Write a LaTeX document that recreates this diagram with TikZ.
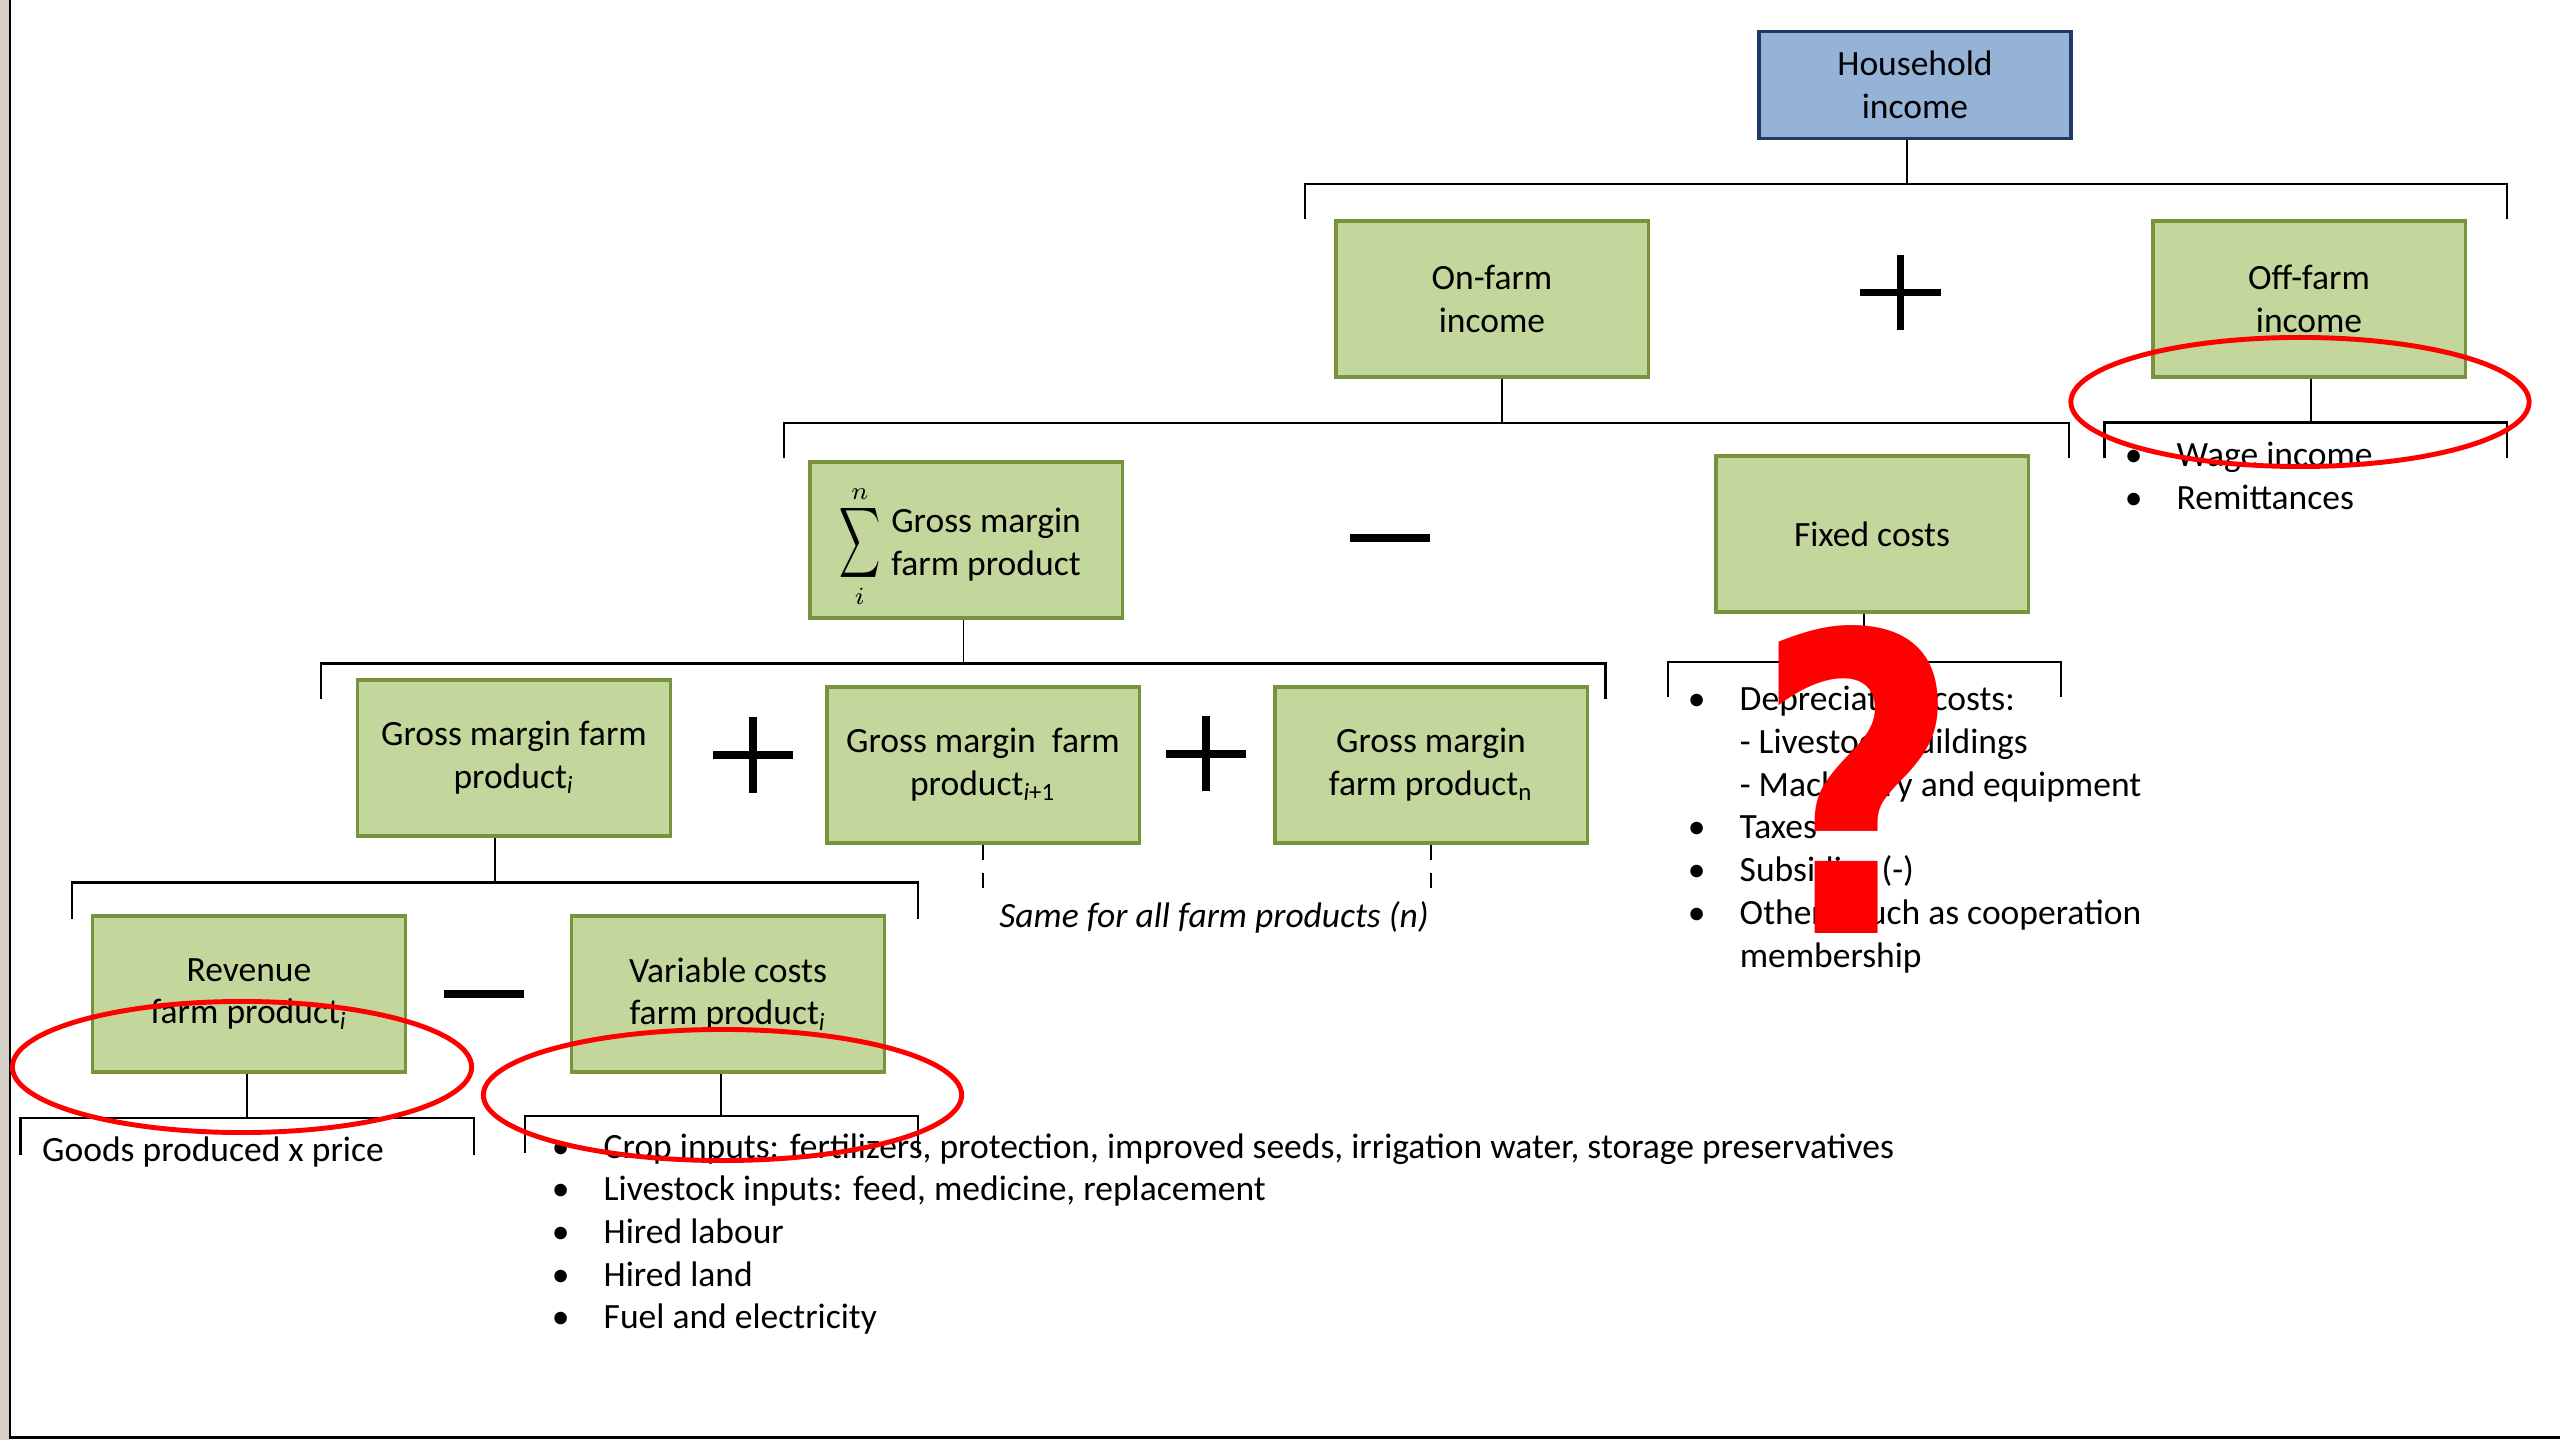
\documentclass[tikz,border=0pt]{standalone}
\usepackage{fontspec}
\setmainfont{Carlito}
\newfontfamily\qmfont{DejaVu Sans}
\usepackage{graphicx}

\definecolor{boxgreen}{HTML}{C3D69B}
\definecolor{boxline}{HTML}{77933C}
\definecolor{hhblue}{HTML}{95B3D7}
\definecolor{hhline}{HTML}{1F3A66}
\definecolor{framegray}{HTML}{D4D0C8}

\newcommand{\dgmfont}{\fontsize{10.1}{12.15}\selectfont}
\newcommand{\lbul}{\makebox[0.2cm]{\textbullet}}

\begin{document}
\begin{tikzpicture}[x=0.01cm, y=-0.01cm,
    box/.style={draw=boxline, fill=boxgreen, line width=0.9pt, minimum width=3.12cm, minimum height=1.56cm, inner sep=0pt, align=center, font=\dgmfont},
    hhbox/.style={box, draw=hhline, fill=hhblue, line width=1pt, minimum height=1.07cm},
    stem/.style={line width=0.55pt},
    bar/.style={line width=0.7pt},
    dashstem/.style={line width=0.55pt, dash pattern=on 4.3pt off 3.7pt},
    op/.style={line width=2.1pt},
    ring/.style={red, line width=1.4pt},
    list/.style={inner sep=0pt, anchor=base west, font=\dgmfont},
  ]
  \useasboundingbox (0,0) rectangle (2560,1440);
  % page edge
  \fill[framegray] (0,0) rectangle (8.7,1440);
  \draw[line width=0.75pt] (10,0) -- (10,1437.7) -- (2560,1437.7);

  % boxes
  \node[hhbox] (hh) at (1915,85) {Household\\income};
  \node[box] (on) at (1492,299) {On-farm\\income};
  \node[box] (off) at (2309,299) {Off-farm\\income};
  \node[box] (sum) at (966,540) {\raisebox{0pt}[0pt][0pt]{\raisebox{-4.3pt}{$\displaystyle\mathop{\scalebox{0.81}[1.4]{$\displaystyle\sum$}}\limits_{\raisebox{1.8pt}[0pt][0pt]{$\scriptstyle i$}}^{\raisebox{-0.9pt}[0pt][0pt]{$\scriptstyle n$}}$}\hspace{0.11cm}\raisebox{-4pt}{\begin{tabular}{@{}l@{}}Gross margin\\farm product\end{tabular}}\hspace{0.12cm}}};
  \node[box] (fix) at (1872,534) {Fixed costs};
  \node[box] (gm1) at (514,758) {Gross margin farm\\product\textsubscript{\itshape i}};
  \node[box] (gm2) at (983,765) {Gross margin\ \ farm\\product\textsubscript{\itshape i\upshape +1}};
  \node[box] (gmn) at (1431,765) {Gross margin\\farm product\textsubscript{n}};
  \node[box] (rev) at (249,994) {Revenue\\farm product\textsubscript{\itshape i}};
  \node[box] (var) at (728,994) {Variable costs\\farm product\textsubscript{\itshape i}};

  % brackets
  \coordinate (b1l) at (1305,184); \coordinate (b1r) at (2507,184); \coordinate (s1) at (1907,184);
  \draw[bar] ([yshift=-0.35cm]b1l) -- (b1l) -- (b1r) -- ([yshift=-0.35cm]b1r);
  \draw[stem] (hh.south -| s1) -- (s1);

  \coordinate (b2l) at (784,423); \coordinate (b2r) at (2069,423); \coordinate (s2) at (1502,423);
  \draw[bar] ([yshift=-0.35cm]b2l) -- (b2l) -- (b2r) -- ([yshift=-0.35cm]b2r);
  \draw[stem] (on.south -| s2) -- (s2);

  \coordinate (b3l) at (2104.5,422.5); \coordinate (b3r) at (2507,422.5); \coordinate (s3) at (2311,422.5);
  \draw[bar] ([yshift=-0.35cm]b3l) -- (b3l) -- (b3r) -- ([yshift=-0.35cm]b3r);
  \draw[stem] (off.south -| s3) -- (s3);

  \coordinate (b4l) at (321,663.6); \coordinate (b4r) at (1605.6,663.6); \coordinate (s4) at (963.5,663.6);
  \draw[bar] ([yshift=-0.355cm]b4l) -- (b4l) -- (b4r) -- ([yshift=-0.355cm]b4r);
  \draw[stem] (sum.south -| s4) -- (s4);

  \coordinate (b5l) at (1668,662); \coordinate (b5r) at (2061,662); \coordinate (s5) at (1864,662);
  \draw[bar] ([yshift=-0.35cm]b5l) -- (b5l) -- (b5r) -- ([yshift=-0.35cm]b5r);
  \draw[stem] (fix.south -| s5) -- (s5);

  \coordinate (b6l) at (72,882.5); \coordinate (b6r) at (918,882.5); \coordinate (s6) at (495,882.5);
  \draw[bar] ([yshift=-0.36cm]b6l) -- (b6l) -- (b6r) -- ([yshift=-0.36cm]b6r);
  \draw[stem] (gm1.south -| s6) -- (s6);

  \coordinate (b7l) at (20.7,1118); \coordinate (b7r) at (474,1118); \coordinate (s7) at (247,1118);
  \draw[bar] ([yshift=-0.365cm]b7l) -- (b7l) -- (b7r) -- ([yshift=-0.365cm]b7r);
  \draw[stem] (rev.south -| s7) -- (s7);

  \coordinate (b8l) at (525,1116); \coordinate (b8r) at (918,1116); \coordinate (s8) at (721,1116);
  \draw[bar] ([yshift=-0.37cm]b8l) -- (b8l) -- (b8r) -- ([yshift=-0.37cm]b8r);
  \draw[stem] (var.south -| s8) -- (s8);

  % the other farm products
  \coordinate (d2) at (983,892); \coordinate (dn) at (1431,892);
  \draw[dashstem] (gm2.south) -- (d2);
  \draw[dashstem] (gmn.south) -- (dn);
  \node[inner sep=0pt, anchor=base, font=\dgmfont\itshape] (same) at (1214,928) {Same for all farm products (n)};

  % plus and minus
  \draw[op] (1860,292.5) -- (1941,292.5) (1900.5,255) -- (1900.5,330);
  \draw[op] (1350,538) -- (1430,538);
  \draw[op] (713,755) -- (793,755) (753,717) -- (753,793);
  \draw[op] (1166,754) -- (1246,754) (1206,716) -- (1206,791);
  \draw[op] (444,994) -- (524,994);

  % lists
  \node[list] (offlist) at (2123,466.4) {\begin{tabular}[t]{@{}c@{\hspace{0.33cm}}l@{}}
    \lbul & Wage income\\
    \lbul & Remittances
  \end{tabular}};
  \node[list] (fixlist) at (1686,710.7) {\begin{tabular}[t]{@{}c@{\hspace{0.33cm}}l@{}}
    \lbul & Depreciation costs:\\
          & - Livestock buildings\\
          & - Machinery and equipment\\
    \lbul & Taxes\\
    \lbul & Subsidies (-)\\
    \lbul & Others, such as cooperation\\
          & membership
  \end{tabular}};
  \node[list] (goods) at (41.5,1161) {Goods produced x price};
  \node[list] (varlist) at (550,1158) {\begin{tabular}[t]{@{}c@{\hspace{0.33cm}}l@{}}
    \lbul & Crop inputs: fertilizers, protection, improved seeds, irrigation water, storage preservatives\\
    \lbul & Livestock inputs: feed, medicine, replacement\\
    \lbul & Hired labour\\
    \lbul & Hired land\\
    \lbul & Fuel and electricity
  \end{tabular}};

  % red marks
  \node[inner sep=0pt, anchor=base, text=red] (qm) at (1858,933) {\scalebox{0.86}[1]{\qmfont\bfseries\fontsize{118}{120}\selectfont ?}};
  \draw[ring] (2300,402) ellipse [x radius=2.29cm, y radius=0.645cm];
  \draw[ring] (242,1067) ellipse [x radius=2.295cm, y radius=0.655cm];
  \draw[ring] (722.5,1095) ellipse [x radius=2.39cm, y radius=0.655cm];
\end{tikzpicture}
\end{document}
